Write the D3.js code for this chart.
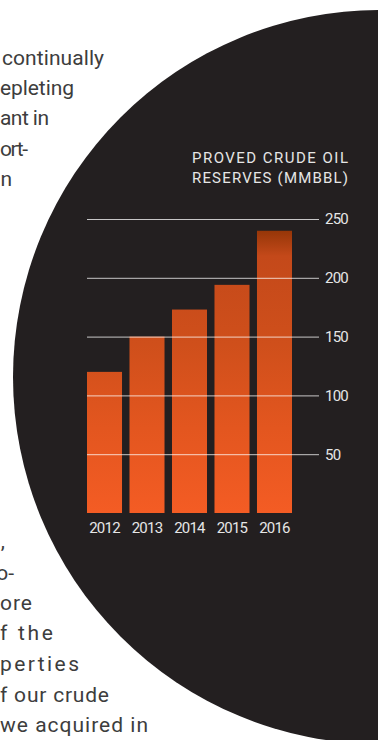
<!DOCTYPE html>
<html>
<head>
<meta charset="utf-8">
<script src="https://cdn.jsdelivr.net/npm/d3@7"></script>
<style>
  html, body { margin: 0; padding: 0; background: #ffffff; }
  svg { display: block; }
</style>
</head>
<body>
<svg id="chart" width="378" height="740"></svg>
<script>
// ---- data ----
const years = ["2012", "2013", "2014", "2015", "2016"];
const reserves = [120, 150, 173, 194, 240];
const yTicks = [50, 100, 150, 200, 250];
const titleLines = ["PROVED CRUDE OIL", "RESERVES (MMBBL)"];
const bodyFragments = ["continually", "epleting", "ant in", "ort-", "n",
  ",", "o-", "ore", "f the", "perties", "f our crude", "we acquired in"];

// ---- layout (not data) ----
const bodyLeft  = [2, 0, 0, 0, 0, 0, 0, 0, 0, 0, 0, 0];
const bodyRight = [104, 74, 49, 28, 12, 5, 14, 32, 53, 79, 109, 148];
const bodyBase  = [65, 95, 125, 156, 186, 548, 580, 610, 640, 671, 702, 732];

const svg = d3.select("#chart");

// body text (behind the circle), spread to the measured line extents
const fit = d => d.length > 2;
svg.append("g")
  .selectAll("text")
  .data(bodyFragments)
  .join("text")
  .attr("x", (d, i) => fit(d) ? bodyLeft[i] : bodyRight[i])
  .attr("y", (d, i) => bodyBase[i])
  .attr("text-anchor", d => fit(d) ? "start" : "end")
  .attr("textLength", (d, i) => fit(d) ? bodyRight[i] - bodyLeft[i] : null)
  .attr("lengthAdjust", "spacing")
  .attr("fill", "#3d3d3d")
  .style("font-family", "Roboto, 'DejaVu Sans', sans-serif")
  .style("font-size", "21px")
  .style("font-weight", 400)
  .text(d => d);

// dark circle
svg.append("circle")
  .attr("cx", 380).attr("cy", 377).attr("r", 367)
  .attr("fill", "#231f20");

// scales
const x = d3.scaleBand().domain(years).range([87, 292]).paddingInner(0.176).paddingOuter(0);
const y = d3.scaleLinear().domain([0, 250]).range([513, 219]);

// gradient
const defs = svg.append("defs");
const grad = defs.append("linearGradient")
  .attr("id", "barGrad")
  .attr("gradientUnits", "userSpaceOnUse")
  .attr("x1", 0).attr("x2", 0)
  .attr("y1", y(d3.max(reserves))).attr("y2", y(0));
[[0, "#963608"], [0.09, "#c4491a"], [0.4, "#cf4f1b"], [0.7, "#e3561f"], [1, "#f45c24"]]
  .forEach(([o, c]) => grad.append("stop").attr("offset", o).attr("stop-color", c));

// bars
svg.append("g")
  .selectAll("rect")
  .data(reserves)
  .join("rect")
  .attr("x", (d, i) => x(years[i]))
  .attr("width", x.bandwidth())
  .attr("y", d => y(d))
  .attr("height", d => y(0) - y(d))
  .attr("fill", "url(#barGrad)");

const tickFont = "Roboto, 'DejaVu Sans', sans-serif";

// y axis with gridlines (drawn over bars)
const yAxis = d3.axisRight(y)
  .tickValues(yTicks)
  .tickSize(-(319 - 87))
  .tickPadding(6)
  .tickFormat(d3.format("d"));
const gy = svg.append("g")
  .attr("transform", "translate(319,0)")
  .call(yAxis);
gy.select(".domain").remove();
gy.selectAll(".tick line")
  .attr("stroke", "#ffffff")
  .attr("stroke-opacity", 0.75)
  .attr("stroke-width", 1);
gy.selectAll(".tick text")
  .attr("fill", "#e6e6e6")
  .style("font-family", tickFont)
  .style("font-size", "15px")
  .style("letter-spacing", "-0.8px");

// x axis labels
const xAxis = d3.axisBottom(x).tickSize(0).tickPadding(9);
const gx = svg.append("g")
  .attr("transform", `translate(0,${y(0)})`)
  .call(xAxis);
gx.select(".domain").remove();
gx.selectAll(".tick text")
  .attr("fill", "#e6e6e6")
  .style("font-family", tickFont)
  .style("font-size", "15px")
  .style("letter-spacing", "-0.8px");

// title
svg.append("g")
  .selectAll("text")
  .data(titleLines)
  .join("text")
  .attr("x", 348)
  .attr("y", (d, i) => 163 + i * 20)
  .attr("text-anchor", "end")
  .attr("textLength", 156)
  .attr("lengthAdjust", "spacing")
  .attr("fill", "#e6e6e6")
  .style("font-family", tickFont)
  .style("font-size", "15px")
  .text(d => d);
</script>
</body>
</html>
